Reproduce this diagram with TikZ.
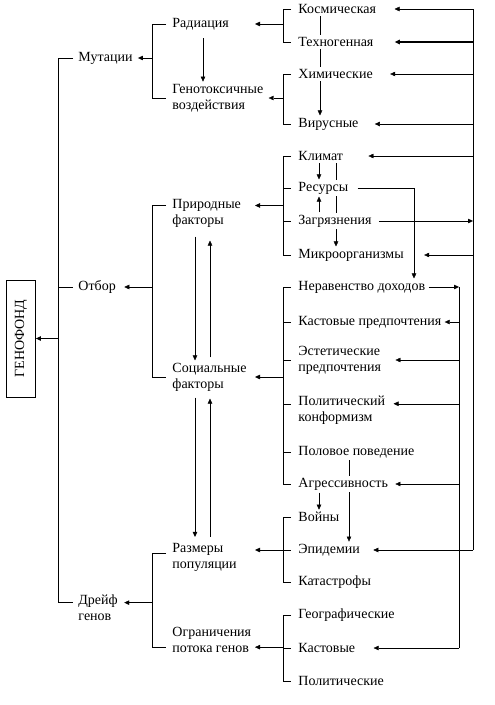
\documentclass[tikz,border=0pt]{standalone}
\usepackage{fontspec}
\setmainfont{Liberation Serif}
\usetikzlibrary{arrows.meta,backgrounds}
\tikzstyle{chart} = [x = 1pt, y = -1pt, line width = .9pt]
\tikzstyle{factorText} = [anchor = west, inner xsep = 0pt, inner ysep = 2pt, align = left, fill = white, font = \fontsize{14}{16}\selectfont]
\tikzstyle{linkArrow} = [-{Triangle[length = 5pt, width = 4.5pt]}]
\tikzstyle{poolBox} = [draw, rotate = 90, minimum width = 117pt, minimum height = 29pt, inner sep = 0pt, font = \fontsize{14}{16}\selectfont]
\newcommand{\feedArrow}[3]{\draw [linkArrow] (#1.east -| #2) -- ([xshift = #3pt]#1.east);}
\newcommand{\branch}[3]{\draw (#1 -| #2) -- (#1 -| #3);}

\begin{document}
\begin{tikzpicture}[chart]
  \useasboundingbox (0,0) rectangle (495,705);
  % columns of the brackets and buses
  \coordinate (b1) at (58,0);
  \coordinate (t1) at (73,0);
  \coordinate (b2) at (152,0);
  \coordinate (t2) at (166,0);
  \coordinate (in2) at (255,0);
  \coordinate (b3) at (283,0);
  \coordinate (t3) at (291,0);
  \coordinate (busA) at (473,0);
  \coordinate (busB) at (459,0);

  \node [poolBox] (pool) at (21,338.5) {ГЕНОФОНД};

  % level 1
  \node [factorText] (mut) at (78,58) {Мутации};
  \node [factorText] (otb) at (78,287) {Отбор};
  \node [factorText] (drift) at (78,608) {Дрейф\\генов};

  % level 2
  \node [factorText] (rad) at (172,24) {Радиация};
  \node [factorText] (gen) at (172,98) {Генотоксичные\\воздействия};
  \node [factorText] (prir) at (172,213) {Природные\\факторы};
  \node [factorText] (soc) at (172,377) {Социальные\\факторы};
  \node [factorText] (razm) at (172,557.5) {Размеры\\популяции};
  \node [factorText] (ogr) at (172,640) {Ограничения\\потока генов};

  % level 3
  \node [factorText] (kosm) at (298,9) {Космическая};
  \node [factorText] (tech) at (298,42) {Техногенная};
  \node [factorText] (chem) at (298,74) {Химические};
  \node [factorText] (vir) at (298,124) {Вирусные};
  \node [factorText] (klim) at (298,156) {Климат};
  \node [factorText] (res) at (298,188) {Ресурсы};
  \node [factorText] (zagr) at (298,221) {Загрязнения};
  \node [factorText] (micro) at (298,255) {Микроорганизмы};
  \node [factorText] (ner) at (298,287) {Неравенство доходов};
  \node [factorText] (kast) at (298,322) {Кастовые предпочтения};
  \node [factorText] (est) at (298,360) {Эстетические\\предпочтения};
  \node [factorText] (pol) at (298,410.5) {Политический\\конформизм};
  \node [factorText] (polov) at (298,452) {Половое поведение};
  \node [factorText] (agr) at (298,484) {Агрессивность};
  \node [factorText] (voy) at (298,517) {Войны};
  \node [factorText] (epid) at (298,550) {Эпидемии};
  \node [factorText] (kat) at (298,582) {Катастрофы};
  \node [factorText] (geo) at (298,615) {Географические};
  \node [factorText] (kastg) at (298,648) {Кастовые};
  \node [factorText] (polit) at (298,681) {Политические};

  % first or second text line of the two-line labels
  \coordinate (drift1) at ([yshift = -10pt]drift.north east);
  \coordinate (prir1) at ([yshift = -9pt]prir.north east);
  \coordinate (razm1) at ([yshift = -12pt]razm.north east);
  \coordinate (ogr2) at ([yshift = 8pt]ogr.south east);
  \coordinate (pol1) at ([yshift = -10pt]pol.north east);

  \begin{scope}[on background layer]
    % level 1
    \draw (mut.west -| t1) -- (mut.west -| b1) |- (drift1 -| t1);
    \branch{otb.west}{b1}{t1}
    \draw [linkArrow] (pool.south -| b1) -- (pool.south);

    % level 2
    \draw (rad.west -| t2) -- (rad.west -| b2) |- (gen.west -| t2);
    \draw [linkArrow] (mut.east -| b2) -- ([xshift = 5pt]mut.east);
    \draw (prir1 -| t2) -- (prir1 -| b2) |- (soc.west -| t2);
    \draw [linkArrow] (otb.east -| b2) -- ([xshift = 8pt]otb.east);
    \draw (razm1 -| t2) -- (razm1 -| b2) |- (ogr2 -| t2);
    \draw [linkArrow] (drift1 -| b2) -- ([xshift = 6pt]drift1);

    % level 3
    \draw (kosm.west -| t3) -- (kosm.west -| b3) |- (tech.west -| t3);
    \draw [linkArrow] (rad.east -| b3) -- (rad.east -| in2);
    \draw (chem.west -| t3) -- (chem.west -| b3) |- (vir.west -| t3);
    \draw [linkArrow] (gen.east -| b3) -- ([xshift = 5pt]gen.east);
    \draw (klim.west -| t3) -- (klim.west -| b3) |- (micro.west -| t3);
    \foreach \f in {res, zagr} {\branch{\f.west}{b3}{t3}}
    \draw [linkArrow] (prir1 -| b3) -- (prir1 -| in2);
    \draw (ner.west -| t3) -- (ner.west -| b3) |- (agr.west -| t3);
    \foreach \f in {kast.west, est.west, pol1, polov.west} {\branch{\f}{b3}{t3}}
    \draw [linkArrow] (soc.east -| b3) -- (soc.east -| in2);
    \draw (voy.west -| t3) -- (voy.west -| b3) |- (kat.west -| t3);
    \branch{epid.west}{b3}{t3}
    \draw [linkArrow] (epid.west -| b3) -- (epid.west -| in2);
    \draw (geo.west -| t3) -- (geo.west -| b3) |- (polit.west -| t3);
    \branch{kastg.west}{b3}{t3}
    \draw [linkArrow] (ogr2 -| b3) -- (ogr2 -| in2);

    % links inside the columns
    \draw [linkArrow] ([xshift = 31pt, yshift = -6pt]rad.south west) -- ([xshift = 31pt]gen.north west);
    \draw [linkArrow] ([xshift = 23pt, yshift = -7pt]prir.south west) -- ([xshift = 23pt]soc.north west);
    \draw [linkArrow] ([xshift = 38pt, yshift = 3pt]soc.north west) -- ([xshift = 38pt, yshift = -11pt]prir.south west);
    \draw [linkArrow] ([xshift = 23pt, yshift = -4pt]soc.south west) -- ([xshift = 23pt, yshift = 4pt]razm.north west);
    \draw [linkArrow] ([xshift = 38pt, yshift = 4pt]razm.north west) -- ([xshift = 38pt, yshift = -5pt]soc.south west);
    \draw [linkArrow] ([xshift = 22pt]kosm.south west) -- ([xshift = 22pt]vir.north west);
    \draw [linkArrow] ([xshift = 21pt]klim.south west) -- ([xshift = 21pt]res.north west);
    \draw [linkArrow] ([xshift = 21pt]zagr.north west) -- ([xshift = 21pt]res.south west);
    \draw [linkArrow] ([xshift = 38pt]klim.south west) -- ([xshift = 38pt]micro.north west);
    \draw [linkArrow] ([xshift = 9pt]res.east) -| ([xshift = 116pt]ner.north west);
    \draw [linkArrow] ([xshift = 7pt]zagr.east) -- (zagr.east -| busA);
    \draw [linkArrow] ([xshift = 21pt]agr.south west) -- ([xshift = 21pt]voy.north west);
    \draw [linkArrow] ([xshift = 51pt]polov.south west) -- ([xshift = 51pt]epid.north west);

    % buses on the right
    \draw (kosm.east -| busA) -- (epid.east -| busA);
    \feedArrow{kosm}{busA}{18}
    \draw [linkArrow, line width = 1.6pt] (tech.east -| busA) -- ([xshift = 21pt]tech.east);
    \feedArrow{chem}{busA}{17}
    \feedArrow{vir}{busA}{16}
    \feedArrow{klim}{busA}{25}
    \feedArrow{micro}{busA}{20}
    \feedArrow{epid}{busA}{13}
    \draw (ner.east -| busB) -- (kastg.east -| busB);
    \draw [linkArrow] ([xshift = 3pt]ner.east) -- (ner.east -| busB);
    \feedArrow{kast}{busB}{3}
    \feedArrow{est}{busB}{14}
    \draw [linkArrow] (pol1 -| busB) -- ([xshift = 8pt]pol1);
    \feedArrow{agr}{busB}{7}
    \feedArrow{kastg}{busB}{18}
  \end{scope}
\end{tikzpicture}
\end{document}
